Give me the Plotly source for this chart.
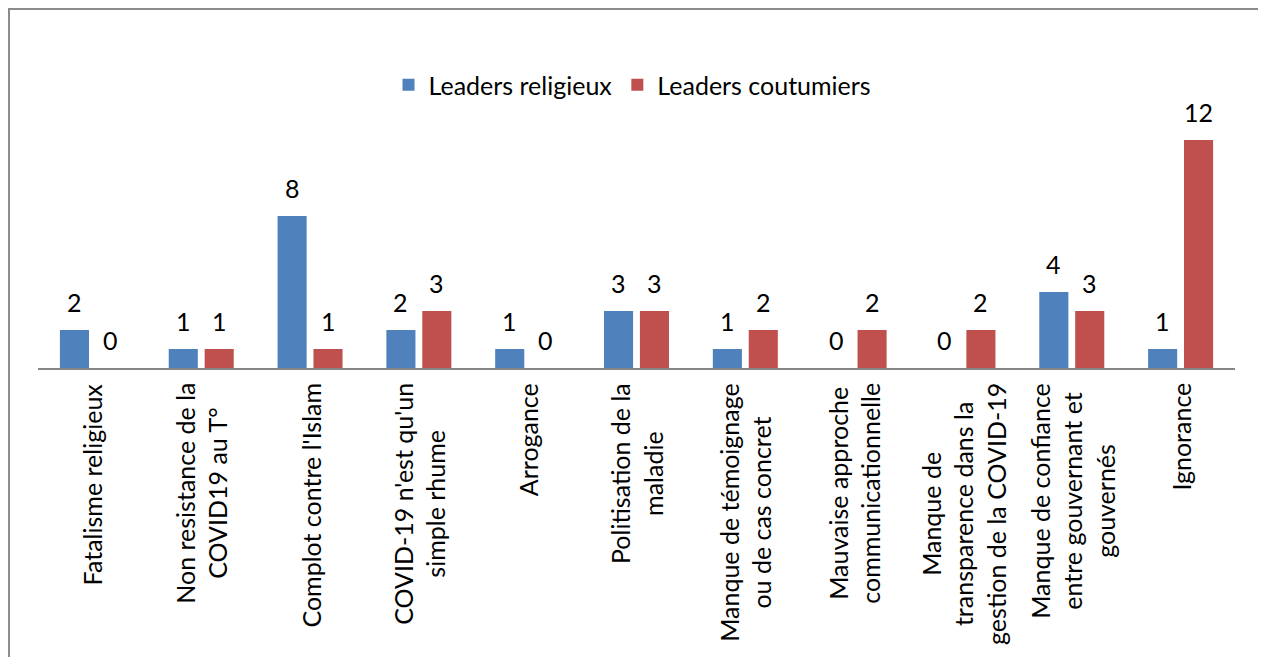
import plotly.graph_objects as go

categories = [
    "Fatalisme religieux",
    "Non resistance de la<br>COVID19 au T°",
    "Complot contre l'Islam",
    "COVID-19 n'est qu'un<br>simple rhume",
    "Arrogance",
    "Politisation de la<br>maladie",
    "Manque de témoignage<br>ou de cas concret",
    "Mauvaise approche<br>communicationnelle",
    "Manque de<br>transparence dans la<br>gestion de la COVID-19",
    "Manque de confiance<br>entre gouvernant et<br>gouvernés",
    "Ignorance",
]
religieux = [2, 1, 8, 2, 1, 3, 1, 0, 0, 4, 1]
coutumiers = [0, 1, 1, 3, 0, 3, 2, 2, 2, 3, 12]

BLUE = "#4F81BD"
RED = "#C0504D"
FONT = "Lato"
FS = 25

OFF = 8  # page body margin
W, H = 1266 - OFF, 657 - OFF
L, T = 38 - OFF, 102 - OFF
PLOT_RIGHT, PLOT_BOTTOM = 1235 - OFF, 368 - OFF
R, B = W - PLOT_RIGHT, H - PLOT_BOTTOM
PW, PH = W - L - R, H - T - B

fig = go.Figure()
fig.add_trace(go.Bar(name="Leaders religieux", x=categories, y=religieux,
                     marker=dict(color=BLUE, line=dict(width=0))))
fig.add_trace(go.Bar(name="Leaders coutumiers", x=categories, y=coutumiers,
                     marker=dict(color=RED, line=dict(width=0))))

annotations = []
for vals, shift in ((religieux, -18), (coutumiers, 18)):
    for c, v in zip(categories, vals):
        annotations.append(dict(x=c, y=v, xref="x", yref="y", text=str(v),
                                showarrow=False, xshift=shift, yshift=11,
                                yanchor="bottom", xanchor="center",
                                font=dict(family=FONT, size=FS, color="#000000")))
for c in categories:
    annotations.append(dict(x=c, y=0, xref="x", yref="y", text=c,
                            showarrow=False, textangle=-90, align="center",
                            yanchor="top", xanchor="center", yshift=-13,
                            font=dict(family=FONT, size=FS, color="#000000")))

def px_x(p):
    return (p - OFF - L) / PW

def px_y(p):
    return (H - B - (p - OFF)) / PH

fig.update_layout(
    width=W, height=H,
    margin=dict(l=L, r=R, t=T, b=B),
    paper_bgcolor="white", plot_bgcolor="white",
    barmode="group", bargap=0.34, bargroupgap=0.19,
    font=dict(family=FONT, size=FS, color="#000000"),
    showlegend=True,
    legend=dict(orientation="h", x=0.5 - 4 / PW, xanchor="center", y=px_y(85),
                yanchor="middle", itemwidth=30,
                font=dict(family=FONT, size=FS), bgcolor="rgba(0,0,0,0)"),
    xaxis=dict(showticklabels=False, ticks="", showline=True, linecolor="#868686",
               linewidth=2, showgrid=False, zeroline=False, fixedrange=True),
    yaxis=dict(range=[0, 14], visible=False, showgrid=False, zeroline=False),
    annotations=annotations,
    shapes=[dict(type="rect", xref="paper", yref="paper",
                 x0=px_x(9), x1=px_x(1264), y0=px_y(720), y1=px_y(9),
                 line=dict(color="#8C8C8C", width=2), fillcolor="rgba(0,0,0,0)",
                 layer="above")],
)

fig.write_html("out.html")
